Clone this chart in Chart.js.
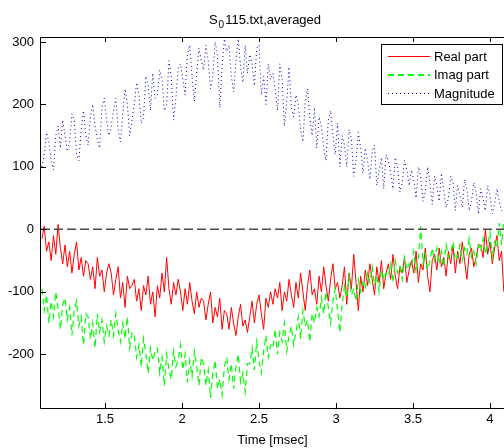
<!DOCTYPE html>
<html><head><meta charset="utf-8">
<script src="https://cdn.jsdelivr.net/npm/chart.js@4"></script>
<style>html,body{margin:0;padding:0;background:#fff;overflow:hidden}#wrap{position:relative;width:504px;height:448px}</style>
</head><body><div id="wrap"><canvas id="c" width="504" height="448"></canvas></div>
<script>
// sample grid (msec)
const t0 = 1.09, dt = 0.015;
const realPart = [
 -15,5,-35,-20,-50,-10,-40,8,-30,-55,
 -25,-60,-35,-70,-40,-20,-65,-45,-75,-50,
 -55,-80,-60,-95,-45,-75,-65,-100,-70,-55,
 -70,-105,-80,-60,-110,-85,-125,-75,-95,-90,
 -80,-115,-95,-130,-90,-105,-75,-120,-100,-140,
 -90,-110,-70,-100,-45,-95,-120,-85,-105,-80,
 -100,-130,-95,-120,-85,-115,-135,-100,-125,-110,
 -115,-145,-120,-100,-150,-125,-140,-110,-160,-130,
 -135,-160,-125,-150,-170,-140,-120,-155,-145,-165,
 -140,-115,-150,-120,-105,-135,-160,-110,-125,-100,
 -120,-95,-110,-85,-130,-100,-115,-80,-105,-125,
 -85,-110,-70,-100,-130,-90,-65,-105,-95,-120,
 -75,-100,-60,-90,-115,-80,-55,-95,-85,-110,
 -90,-60,-120,-70,-95,-40,-85,-130,-75,-100,
 -65,-90,-55,-80,-105,-60,-85,-50,-95,-70,
 -55,-80,-40,-75,-95,-60,-70,-45,-85,-65,
 -50,-70,-35,-85,-55,-65,-30,-75,-100,-50,
 -40,-65,-30,-60,-45,-75,-35,-55,-25,-70,
 -35,-55,-20,-50,-80,-40,-30,-60,-45,-25,
 -25,-45,0,-40,-20,-55,-30,-10,-50,-35,
 -100
];
const imagPart = [
 -95,-130,-105,-150,-115,-140,-100,-125,-160,-120,
 -110,-145,-125,-170,-130,-115,-155,-140,-185,-135,
 -140,-175,-150,-190,-135,-165,-145,-180,-155,-170,
 -145,-170,-135,-160,-180,-150,-175,-140,-190,-165,
 -170,-205,-185,-220,-175,-200,-230,-190,-210,-195,
 -190,-230,-205,-250,-200,-225,-240,-195,-220,-210,
 -185,-225,-200,-245,-210,-235,-195,-220,-250,-205,
 -215,-250,-225,-270,-230,-210,-255,-240,-265,-220,
 -205,-240,-215,-255,-220,-200,-245,-230,-260,-215,
 -215,-190,-225,-180,-210,-230,-195,-170,-205,-185,
 -190,-160,-200,-165,-180,-150,-195,-170,-155,-185,
 -165,-140,-175,-130,-155,-145,-180,-135,-150,-125,
 -140,-110,-135,-100,-125,-150,-115,-95,-130,-165,
 -120,-90,-110,-75,-105,-95,-115,-80,-100,-85,
 -95,-70,-85,-60,-90,-75,-100,-65,-80,-70,
 -75,-55,-85,-50,-70,-60,-80,-45,-65,-55,
 -60,-35,-70,-45,5,-55,-40,-65,-50,-30,
 -50,-30,-55,-35,-60,-25,-45,-40,-20,-50,
 -45,-25,-50,-30,-40,-15,-45,-35,-55,-25,
 -35,-15,-40,-25,-5,-45,-20,-30,10,-25,
 15
];
const magnitude = [
 100,120,155,140,110,95,150,165,130,175,
 150,125,140,185,175,120,110,160,190,150,
 135,180,200,165,145,130,195,210,175,150,
 165,190,210,160,140,185,225,200,150,175,
 200,235,215,170,180,245,230,190,250,210,
 215,255,240,190,200,270,245,175,210,260,
 265,240,215,280,295,245,205,250,290,270,
 255,295,270,225,245,300,280,195,260,305,
 285,295,245,220,270,305,260,235,295,250,
 280,265,230,290,295,215,245,200,265,240,
 250,225,190,265,240,165,205,260,195,180,
 215,200,160,140,205,225,180,150,195,130,
 180,165,130,110,175,190,150,120,170,100,
 150,135,100,160,145,85,110,155,130,90,
 130,110,80,125,135,70,95,115,65,120,
 110,90,65,115,100,60,75,110,95,70,
 95,80,50,100,85,45,60,100,75,40,
 85,70,45,90,60,35,50,85,75,30,
 70,55,35,80,65,30,45,75,60,25,
 65,50,30,70,55,25,40,65,45,30,
 35
];
const zeroLineX = [1.084, 4.091];
const zeroLineY = [0, 0];
const xTicks = [1.5, 2, 2.5, 3, 3.5, 4];
const yTicks = [-200, -100, 0, 100, 200, 300];
const seriesNames = ['Real part', 'Imag part', 'Magnitude'];
const titleMain = 'S', titleSub = '0', titleRest = '115.txt,averaged';
const xLabel = 'Time [msec]';

const FONT = "'Liberation Sans', Arial, Helvetica, sans-serif";
const toXY = arr => arr.map((v, i) => ({x: t0 + i * dt, y: v}));

const styles = [
  {color: '#ff0000', dash: [], width: 1, legendWidth: 1},
  {color: '#00ff00', dash: [6, 4], width: 1.2, legendWidth: 2},
  {color: '#0000c0', dash: [1, 3], width: 1, legendWidth: 1}
];

const framePlugin = {
  id: 'frame',
  afterDraw(chart) {
    const {ctx, chartArea: a, scales: {x, y}} = chart;
    ctx.save();
    ctx.strokeStyle = '#000';
    ctx.lineWidth = 1;
    ctx.setLineDash([]);
    ctx.beginPath();
    ctx.moveTo(a.right + 1, a.top + 0.5); ctx.lineTo(a.left - 0.5, a.top + 0.5);
    ctx.lineTo(a.left - 0.5, a.bottom + 0.5); ctx.lineTo(a.right + 1, a.bottom + 0.5);
    ctx.stroke();
    ctx.beginPath();
    xTicks.forEach(v => {
      const px = Math.round(x.getPixelForValue(v)) + 0.5;
      ctx.moveTo(px, a.bottom); ctx.lineTo(px, a.bottom - 5);
      ctx.moveTo(px, a.top); ctx.lineTo(px, a.top + 5);
    });
    yTicks.forEach(v => {
      const py = Math.round(y.getPixelForValue(v)) + 0.5;
      ctx.moveTo(a.left, py); ctx.lineTo(a.left + 5, py);
    });
    ctx.stroke();

    // title with subscript
    ctx.fillStyle = '#000';
    ctx.textBaseline = 'alphabetic';
    ctx.textAlign = 'left';
    ctx.font = '13px ' + FONT;
    const w1 = ctx.measureText(titleMain).width;
    const w3 = ctx.measureText(titleRest).width;
    ctx.font = '10px ' + FONT;
    const w2 = ctx.measureText(titleSub).width;
    let tx = 265 - (w1 + 1 + w2 + 1 + w3) / 2;
    ctx.font = '13px ' + FONT;
    ctx.fillText(titleMain, tx, 23.5);
    tx += w1 + 1;
    ctx.font = '10px ' + FONT;
    ctx.fillText(titleSub, tx, 27.5);
    tx += w2 + 1;
    ctx.font = '13px ' + FONT;
    ctx.fillText(titleRest, tx, 23.5);

    // x label
    ctx.textAlign = 'center';
    ctx.fillText(xLabel, 272.5, 443.5);

    // legend
    const bx = 381.5, by = 44.5, bw = 121, bh = 60;
    ctx.fillStyle = '#fff';
    ctx.fillRect(bx, by, bw, bh);
    ctx.strokeStyle = '#000';
    ctx.lineWidth = 1;
    ctx.strokeRect(bx, by, bw, bh);
    const rows = [56, 74.5, 93];
    seriesNames.forEach((name, i) => {
      const ly = Math.round(rows[i]) + (styles[i].legendWidth === 2 ? 0 : 0.5);
      ctx.strokeStyle = styles[i].color;
      ctx.lineWidth = styles[i].legendWidth;
      ctx.setLineDash(styles[i].dash);
      ctx.beginPath();
      ctx.moveTo(388, ly); ctx.lineTo(430, ly);
      ctx.stroke();
      ctx.setLineDash([]);
      ctx.fillStyle = '#000';
      ctx.textAlign = 'left';
      ctx.font = '13px ' + FONT;
      ctx.fillText(name, 434, rows[i] + 4.5);
    });
    ctx.restore();
  }
};

const ds = [realPart, imagPart, magnitude].map((arr, i) => ({
  label: seriesNames[i],
  data: toXY(arr),
  borderColor: styles[i].color,
  borderWidth: styles[i].width,
  borderDash: styles[i].dash,
  order: 3 - i
}));
ds.push({
  label: 'zero',
  data: zeroLineX.map((xv, i) => ({x: xv, y: zeroLineY[i]})),
  borderColor: '#4a4a4a',
  borderWidth: 1.5,
  borderDash: [9, 4],
  order: 0
});

new Chart(document.getElementById('c'), {
  type: 'line',
  data: {datasets: ds},
  plugins: [framePlugin],
  options: {
    responsive: false,
    devicePixelRatio: 1,
    animation: false,
    layout: {padding: {top: 37, left: 0, right: 0, bottom: 0}},
    elements: {point: {radius: 0}, line: {tension: 0, fill: false}},
    plugins: {legend: {display: false}, tooltip: {enabled: false}, title: {display: false}},
    scales: {
      x: {
        type: 'linear', min: 1.084, max: 4.091,
        grid: {display: false, drawTicks: false},
        border: {display: false},
        ticks: {font: {family: FONT, size: 13}, color: '#000', padding: 4, maxRotation: 0, autoSkip: false, includeBounds: false, callback: v => String(v)},
        afterBuildTicks: s => { s.ticks = xTicks.map(v => ({value: v})); },
        afterFit: s => { s.height = 40; }
      },
      y: {
        type: 'linear', min: -286, max: 308,
        grid: {display: false, drawTicks: false},
        border: {display: false},
        ticks: {font: {family: FONT, size: 13}, color: '#000', padding: 7, autoSkip: false, includeBounds: false, callback: v => String(v)},
        afterBuildTicks: s => { s.ticks = yTicks.map(v => ({value: v})); },
        afterFit: s => { s.width = 41; }
      }
    }
  }
});
</script></body></html>
